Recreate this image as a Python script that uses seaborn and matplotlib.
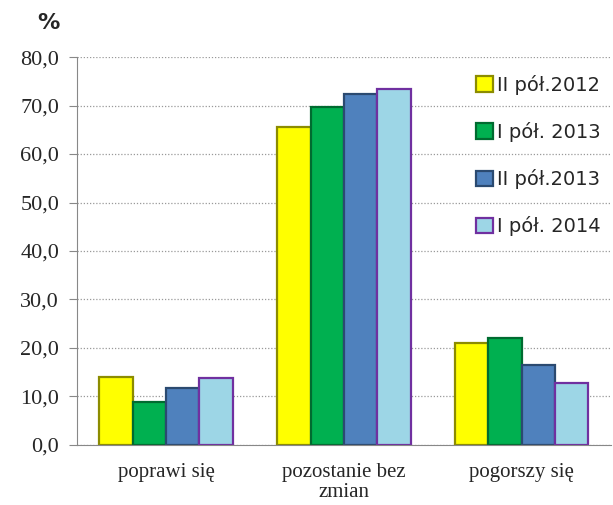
import pandas as pd
import seaborn as sns
import matplotlib.pyplot as plt
from matplotlib.ticker import FixedLocator

# data
categories = ["poprawi się", "pozostanie bez\nzmian", "pogorszy się"]
periods = ["II pół.2012", "I pół. 2013", "II pół.2013", "I pół. 2014"]
v_2012_2 = [14.0, 65.6, 21.0]
v_2013_1 = [8.9, 69.8, 22.0]
v_2013_2 = [11.7, 72.4, 16.5]
v_2014_1 = [13.9, 73.5, 12.7]

colors = ["#FFFF00", "#00B050", "#4F81BD", "#9DD6E6"]
edges = ["#8C8C00", "#006B30", "#2B4A70", "#7030A0"]

rows = []
for p, vals in zip(periods, [v_2012_2, v_2013_1, v_2013_2, v_2014_1]):
    for c, v in zip(categories, vals):
        rows.append({"kat": c, "okres": p, "val": v})
df = pd.DataFrame(rows)

sns.set_style("white")
fig = plt.figure(figsize=(6.13, 5.05), dpi=100)
ax = fig.add_axes([0.126, 0.119, 0.87, 0.768])

sns.barplot(data=df, x="kat", y="val", hue="okres", order=categories,
            hue_order=periods, palette=colors, width=0.75, saturation=1,
            edgecolor="none", ax=ax)

# darker edges to hint at the bevelled look
for cont, ec in zip(ax.containers, edges):
    for bar in cont:
        bar.set_edgecolor(ec)
        bar.set_linewidth(1.6)

ax.set_ylim(0, 80)
ax.set_xlim(-0.5, 2.5)
ax.set_yticks(range(0, 81, 10))
ax.set_yticklabels([f"{v},0" for v in range(0, 81, 10)],
                   fontfamily="Liberation Serif", fontsize=16)
ax.set_xticklabels(categories, fontfamily="Liberation Serif", fontsize=15,
                   linespacing=1.05)
ax.tick_params(axis="x", length=0, pad=13)
ax.xaxis.set_minor_locator(FixedLocator([0.5, 1.5]))
ax.tick_params(axis="x", which="minor", length=5, color="#888888")
ax.tick_params(axis="y", length=6, color="#888888", direction="out",
               left=True, pad=7)
ax.set_xlabel("")
ax.set_ylabel("")

ax.yaxis.grid(True, linestyle=(0, (1, 1.5)), color="#999999", linewidth=0.9)
ax.set_axisbelow(True)
for s in ["top", "right"]:
    ax.spines[s].set_visible(False)
ax.spines["left"].set_color("#888888")
ax.spines["bottom"].set_color("#888888")

leg = ax.legend(loc="upper left", bbox_to_anchor=(0.715, 1.0), frameon=False,
                fontsize=14, handlelength=0.85, handleheight=0.85,
                handletextpad=0.25, labelspacing=1.4)
for h, ec in zip(leg.legend_handles, edges):
    h.set_edgecolor(ec)
    h.set_linewidth(1.6)

fig.text(0.06, 0.955, "%", fontsize=16, fontweight="bold", ha="left", va="center")

fig.savefig("out.png", dpi=100)
